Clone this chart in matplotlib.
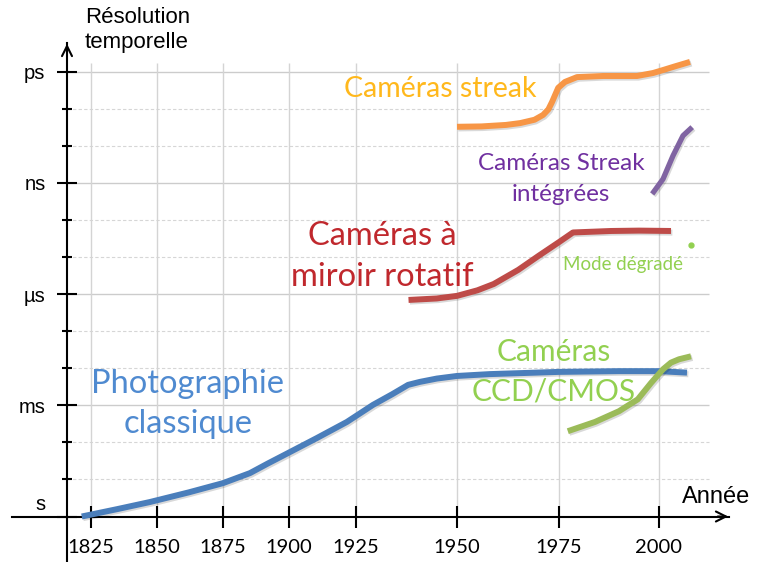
import numpy as np
import matplotlib
matplotlib.use("Agg")
import matplotlib.pyplot as plt
import matplotlib.patheffects as pe
import matplotlib.transforms as mtransforms

# ---- data (year, level) ; level: 0 = s, 3 = ms, 6 = µs, 9 = ns, 12 = ps
photo_years = [1821.5, 1835, 1847.3, 1862, 1875, 1885.2, 1892, 1899.6, 1910.5, 1921.6,
               1929.2, 1934, 1937.9, 1940.8, 1945, 1950, 1958, 1975, 1990, 2000, 2007]
photo_level = [0.0, 0.2, 0.39, 0.65, 0.9, 1.17, 1.43, 1.71, 2.12, 2.55,
               3.01, 3.3, 3.55, 3.63, 3.72, 3.79, 3.84, 3.9, 3.92, 3.92, 3.88]

rotatif_years = [1938, 1945, 1950, 1955, 1959, 1965, 1970, 1975, 1978.5, 1988, 1995, 2003]
rotatif_level = [5.84, 5.88, 5.95, 6.1, 6.27, 6.65, 7.03, 7.4, 7.66, 7.7, 7.71, 7.7]

streak_years = [1950, 1956, 1962, 1965.5, 1969, 1971.1, 1972.4, 1973.3, 1974.8, 1976.5, 1979.5,
                1986, 1994.5, 1998.5, 2001, 2004, 2007.75]
streak_level = [10.51, 10.52, 10.56, 10.61, 10.7, 10.83, 10.98, 11.18, 11.56, 11.72, 11.85,
                11.88, 11.88, 11.96, 12.04, 12.14, 12.26]

integ_years = [1998.3, 2001, 2003.5, 2006, 2008.3]
integ_level = [8.7, 9.1, 9.73, 10.27, 10.5]

ccd_years = [1977.2, 1984, 1990, 1994.7, 1998, 2001, 2003, 2005, 2008]
ccd_level = [2.3, 2.55, 2.84, 3.16, 3.6, 3.97, 4.15, 4.24, 4.32]

degrade_year = [2008]
degrade_level = [7.32]

year_ticks = [1825, 1850, 1875, 1900, 1925, 1950, 1975, 2000]
level_ticks = [0, 3, 6, 9, 12]
level_labels = ["s", "ms", "µs", "ns", "ps"]

# ---- non-uniform year axis (pixel positions of the year ticks)
SCALE_YEARS = [1775, 1825, 1850, 1875, 1900, 1925, 1950, 1975, 2000, 2050]
SCALE_PX = [-41, 91, 157, 223, 289, 356, 457, 559, 659, 859]


def fwd(x):
    return np.interp(x, SCALE_YEARS, SCALE_PX)


def inv(p):
    return np.interp(p, SCALE_PX, SCALE_YEARS)


X0 = 516.5
PX_PER_LEVEL = 37.08


def lev(py):
    return (X0 - py) / PX_PER_LEVEL


plt.rcParams['font.family'] = ['Lato', 'DejaVu Sans']

fig = plt.figure(figsize=(7.63, 5.62), dpi=100)
ax = fig.add_axes([0, 0, 1, 1])
ax.set_xscale('function', functions=(fwd, inv))
ax.set_xlim(inv(0), inv(763))
ax.set_ylim(lev(562), lev(0))

yaxis_x = float(inv(67))
grid_right = float(inv(709))
grid_top = lev(63)

# grid
for lv in range(1, 13):
    if lv % 3 == 0:
        ax.hlines(lv, yaxis_x, grid_right, color='#cccccc', lw=1.0, zorder=1)
    else:
        ax.hlines(lv, yaxis_x, grid_right, color='#d6d6d6', lw=0.8,
                  linestyles=(0, (3, 2)), zorder=1)
ax.vlines(year_ticks, 0, grid_top, color='#d4d4d4', lw=1.0, zorder=1)

# axes with arrows
for s in ['top', 'right']:
    ax.spines[s].set_visible(False)
ax.spines['left'].set_position(('data', yaxis_x))
ax.spines['bottom'].set_position(('data', 0))
ax.spines['left'].set_bounds(lev(562), lev(43))
ax.spines['bottom'].set_bounds(inv(12), inv(729))
for s in ['left', 'bottom']:
    ax.spines[s].set_linewidth(1.5)
    ax.spines[s].set_color('black')
ax.annotate('', xy=(yaxis_x, lev(41)), xytext=(yaxis_x, lev(55)),
            arrowprops=dict(arrowstyle='->', lw=1.5, mutation_scale=18, color='black'))
ax.annotate('', xy=(inv(731), 0), xytext=(inv(715), 0),
            arrowprops=dict(arrowstyle='->', lw=1.5, mutation_scale=18, color='black'))

ax.set_xticks(year_ticks)
ax.set_xticklabels([str(y) for y in year_ticks], fontsize=14.5)
ax.set_xticks([], minor=True)
ax.set_yticks(level_ticks)
ax.set_yticklabels(level_labels, fontsize=14.5, family='Liberation Sans')
ax.set_yticks([lv for lv in range(1, 13) if lv % 3], minor=True)
ax.tick_params(axis='x', which='major', direction='inout', length=16, width=1.5, pad=8.5)
ax.tick_params(axis='y', which='major', direction='inout', length=15, width=1.5, pad=8)
ax.tick_params(axis='y', which='minor', direction='inout', length=7, width=1.5)

# the "s" label sits a little above the x axis
s_label = ax.get_yticklabels()[0]
s_label.set_transform(s_label.get_transform()
                      + mtransforms.ScaledTranslation(0, 10 / 72, fig.dpi_scale_trans))

# curves
shadow = [pe.SimpleLineShadow(offset=(1.0, -1.2), alpha=0.15), pe.Normal()]
ax.plot(photo_years, photo_level, color='#4a7ebb', lw=4.3, solid_capstyle='butt',
        solid_joinstyle='round', path_effects=shadow, zorder=3)
ax.plot(rotatif_years, rotatif_level, color='#be4b48', lw=4.3, solid_capstyle='butt',
        solid_joinstyle='round', path_effects=shadow, zorder=3)
ax.plot(streak_years, streak_level, color='#f79646', lw=4.3, solid_capstyle='butt',
        solid_joinstyle='round', path_effects=shadow, zorder=3)
ax.plot(integ_years, integ_level, color='#8064a2', lw=3.8, solid_capstyle='butt',
        solid_joinstyle='round', path_effects=shadow, zorder=3)
ax.plot(ccd_years, ccd_level, color='#9bbb59', lw=4.3, solid_capstyle='butt',
        solid_joinstyle='round', path_effects=shadow, zorder=3)
ax.plot(degrade_year, degrade_level, 'o', color='#92d050', ms=3.5, zorder=3)

# labels
ax.text(1945.8, 11.54, "Caméras streak", color='#ffb81c', fontsize=20.5,
        ha='center', va='center')
ax.text(1975.5, 9.1, "Caméras Streak\nintégrées", color='#7030a0', fontsize=17.5,
        ha='center', va='center', linespacing=1.62)
ax.text(1931.4, 7.01, "Caméras à\nmiroir rotatif", color='#c0282d', fontsize=23.5,
        ha='center', va='center', linespacing=1.45)
ax.text(1991, 6.8, "Mode dégradé", color='#92d050', fontsize=13.5,
        ha='center', va='center')
ax.text(1973.8, 3.91, "Caméras\nCCD/CMOS", color='#92d050', fontsize=21.5,
        ha='center', va='center', linespacing=1.5)
ax.text(1861.7, 3.03, "Photographie\nclassique", color='#4f8ad0', fontsize=23.5,
        ha='center', va='center', linespacing=1.4)

ax.text(inv(85), lev(7), "Résolution\ntemporelle", fontsize=16,
        family='Liberation Sans', ha='left', va='top', linespacing=1.25)
ax.text(inv(682), lev(497), "Année", fontsize=17, family='Liberation Sans',
        ha='left', va='center')

fig.savefig('out.png', dpi=100)
plt.close(fig)
